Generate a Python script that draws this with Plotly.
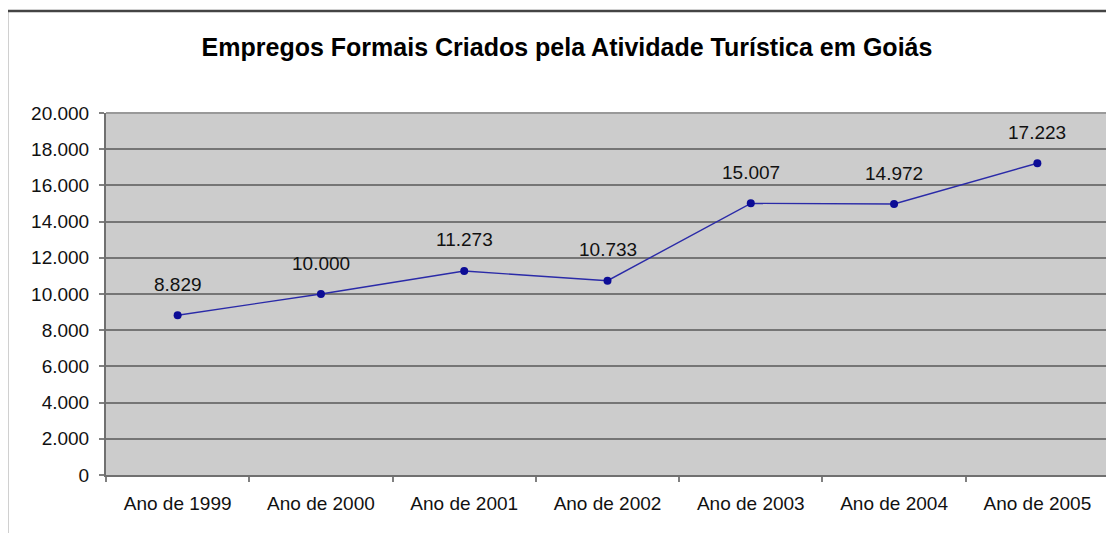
import plotly.graph_objects as go

categories = ["Ano de 1999", "Ano de 2000", "Ano de 2001", "Ano de 2002",
              "Ano de 2003", "Ano de 2004", "Ano de 2005"]
values = [8829, 10000, 11273, 10733, 15007, 14972, 17223]
y_ticks = [0, 2000, 4000, 6000, 8000, 10000, 12000, 14000, 16000, 18000, 20000]

FONT = "Liberation Sans, Arial, sans-serif"

fig = go.Figure()
fig.add_trace(go.Scatter(
    x=categories, y=values, mode="lines+markers",
    line=dict(color="#2a2aa8", width=1.4),
    marker=dict(color="#0c0c96", size=8),
    hoverinfo="skip", showlegend=False,
))

for c, v in zip(categories, values):
    fig.add_annotation(x=c, y=v, text=f"{v:,}".replace(",", "."),
                       showarrow=False, yshift=31,
                       font=dict(family=FONT, size=19, color="#111"))

# page body has an 8px margin, so the figure is offset by 8px
W, H = 1106, 525
L, R, T, B = 98, 5, 105, 58
pw = W - L - R
ph = H - T - B

fig.update_layout(
    width=W, height=H,
    margin=dict(l=L, r=R, t=T, b=B),
    paper_bgcolor="white",
    plot_bgcolor="#cccccc",
    separators=",.",
    font=dict(family=FONT, size=19, color="#111"),
    title=dict(text="<b>Empregos Formais Criados pela Atividade Turística em Goiás</b>",
               x=559 / W, xanchor="center", y=1 - 39 / H, yanchor="middle",
               font=dict(family=FONT, size=25, color="#000")),
    xaxis=dict(type="category", range=[-0.5, 6.5], tickson="boundaries",
               ticks="outside", ticklen=5, tickcolor="#808080", tickwidth=2,
               ticklabelstandoff=10,
               showgrid=False, showline=True, linecolor="#707070", linewidth=2,
               tickfont=dict(size=19), fixedrange=True),
    yaxis=dict(range=[0, 20000], tickvals=y_ticks, tickformat=",d",
               ticks="outside", ticklen=5, tickcolor="#808080", tickwidth=2,
               ticklabelstandoff=6,
               showgrid=True, gridcolor="#757575", gridwidth=2,
               showline=True, linecolor="#707070", linewidth=2,
               zeroline=False, tickfont=dict(size=19), fixedrange=True),
    shapes=[
        dict(type="line", xref="paper", yref="paper",
             x0=(-1 - L) / pw, x1=(-1 - L) / pw,
             y0=1 + (T - 3) / ph, y1=-(B + 5) / ph,
             line=dict(color="#444", width=2.5)),
        dict(type="line", xref="paper", yref="paper",
             x0=(-1 - L) / pw, x1=(W + 10 - L) / pw,
             y0=1 + (T - 3) / ph, y1=1 + (T - 3) / ph,
             line=dict(color="#444", width=2.5)),
        dict(type="line", xref="paper", yref="paper",
             x0=1, x1=1, y0=0, y1=1,
             line=dict(color="#aaaaaa", width=2)),
        dict(type="line", xref="paper", yref="paper",
             x0=0, x1=1, y0=1, y1=1,
             line=dict(color="#999999", width=2)),
    ],
)

fig.write_html("out.html")
